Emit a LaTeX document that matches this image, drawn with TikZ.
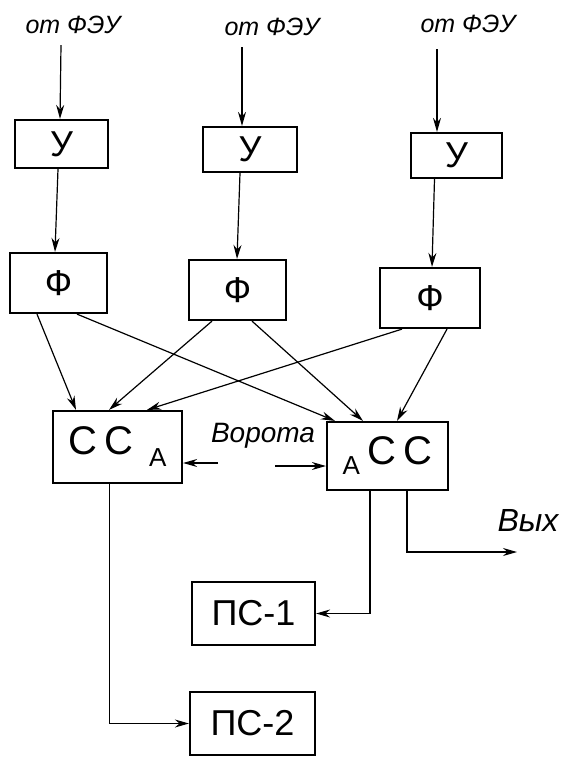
\documentclass[tikz,border=0pt]{standalone}
\usepackage{fontspec}
\setmainfont{Liberation Sans}
\usetikzlibrary{arrows.meta,calc}
\begin{document}
\begin{tikzpicture}[x=1pt,y=-1pt,
  box/.style={draw,line width=2.2pt,minimum width=#1,inner sep=0pt,font=\fontsize{36}{38}\selectfont},
  arr/.style={line width=1.2pt,-{Stealth[length=14pt,width=8pt]}},
  lab/.style={font=\fontsize{25}{27}\selectfont\itshape,inner sep=1pt}]
\useasboundingbox (0,0) rectangle (560,758);
% top labels
\node[lab] (t1) at (73,25) {от ФЭУ};
\node[lab] (t2) at (272,27) {от ФЭУ};
\node[lab] (t3) at (468,24) {от ФЭУ};
% amplifiers
\node[box=93pt,minimum height=48pt] (u1) at (61.5,144) {У};
\node[box=94pt,minimum height=45pt] (u2) at (250,149.5) {У};
\node[box=91pt,minimum height=45pt] (u3) at (456.5,155.5) {У};
% filters
\node[box=97pt,minimum height=60pt] (f1) at (58.5,283) {Ф};
\node[box=97pt,minimum height=60pt] (f2) at (237.5,290) {Ф};
\node[box=100pt,minimum height=60pt] (f3) at (430,298) {Ф};
% coincidence circuits
\node[box=129pt,minimum height=72pt] (cca) at (117.5,447) {\fontsize{40}{42}\selectfont C\,C\hspace{16pt}\raisebox{-12pt}{\fontsize{26}{26}\selectfont A}};
\node[box=121pt,minimum height=68pt] (ccb) at (387.5,456) {\raisebox{-10pt}{\fontsize{26}{26}\selectfont A}\hspace{8pt}{\fontsize{40}{42}\selectfont C\,C}\hspace{6pt}};
% counters
\node[box=123pt,minimum height=63pt] (ps1) at (253.5,613.5) {ПС-1};
\node[box=125pt,minimum height=63pt] (ps2) at (252.5,723.5) {ПС-2};
% labels
\node[font=\fontsize{28}{30}\selectfont\itshape,inner sep=0pt] (vor) at (263,436) {Ворота};
\node[font=\fontsize{32}{34}\selectfont\itshape,inner sep=0pt] (vyh) at (528,521) {Вых};
% inputs
\draw[arr] ($(t1.south)+(-12,10)$) -- ($(u1.north)+(-1.5,0)$);
\draw[arr] ($(t2.south)+(-30,10)$) -- ($(u2.north)+(-8,0)$);
\draw[arr] ($(t3.south)+(-31,15)$) -- ($(u3.north)+(-19.5,0)$);
% amplifier to filter
\draw[arr] ($(u1.south)+(-3.5,0)$) -- ($(f1.north)+(-3.5,0)$);
\draw[arr] ($(u2.south)+(-10,0)$) -- ($(f2.north)+(-0.5,0)$);
\draw[arr] ($(u3.south)+(-22,0)$) -- ($(f3.north)+(2,0)$);
% filters to coincidence circuits
\draw[arr] ($(f1.south)+(-21.5,0)$) -- ($(cca.north)+(-41.5,0)$);
\draw[arr] ($(f1.south)+(18.5,0)$) -- ($(ccb.north)+(-52.5,0)$);
\draw[arr] ($(f2.south)+(-25.5,0)$) -- ($(cca.north)+(-8.5,0)$);
\draw[arr] ($(f2.south)+(14.5,0)$) -- ($(ccb.north)+(-24.5,0)$);
\draw[arr] ($(f3.south)+(-28,0)$) -- ($(cca.north)+(29.5,0)$);
\draw[arr] ($(f3.south)+(17,0)$) -- ($(ccb.north)+(9.5,0)$);
% gate
\coordinate (g1) at (218,463);
\coordinate (g2) at (275,466);
\draw[arr] (g1) -- (g1 -| cca.east);
\draw[arr] (g2) -- (g2 -| ccb.west);
% outputs
\coordinate (out) at (517,552);
\draw[arr] ($(ccb.south)+(19.5,0)$) |- (out);
\draw[arr] ($(ccb.south)+(-17.5,0)$) |- (ps1.east);
\draw[arr] ($(cca.south)+(-8,0)$) |- (ps2.west);
\end{tikzpicture}
\end{document}
